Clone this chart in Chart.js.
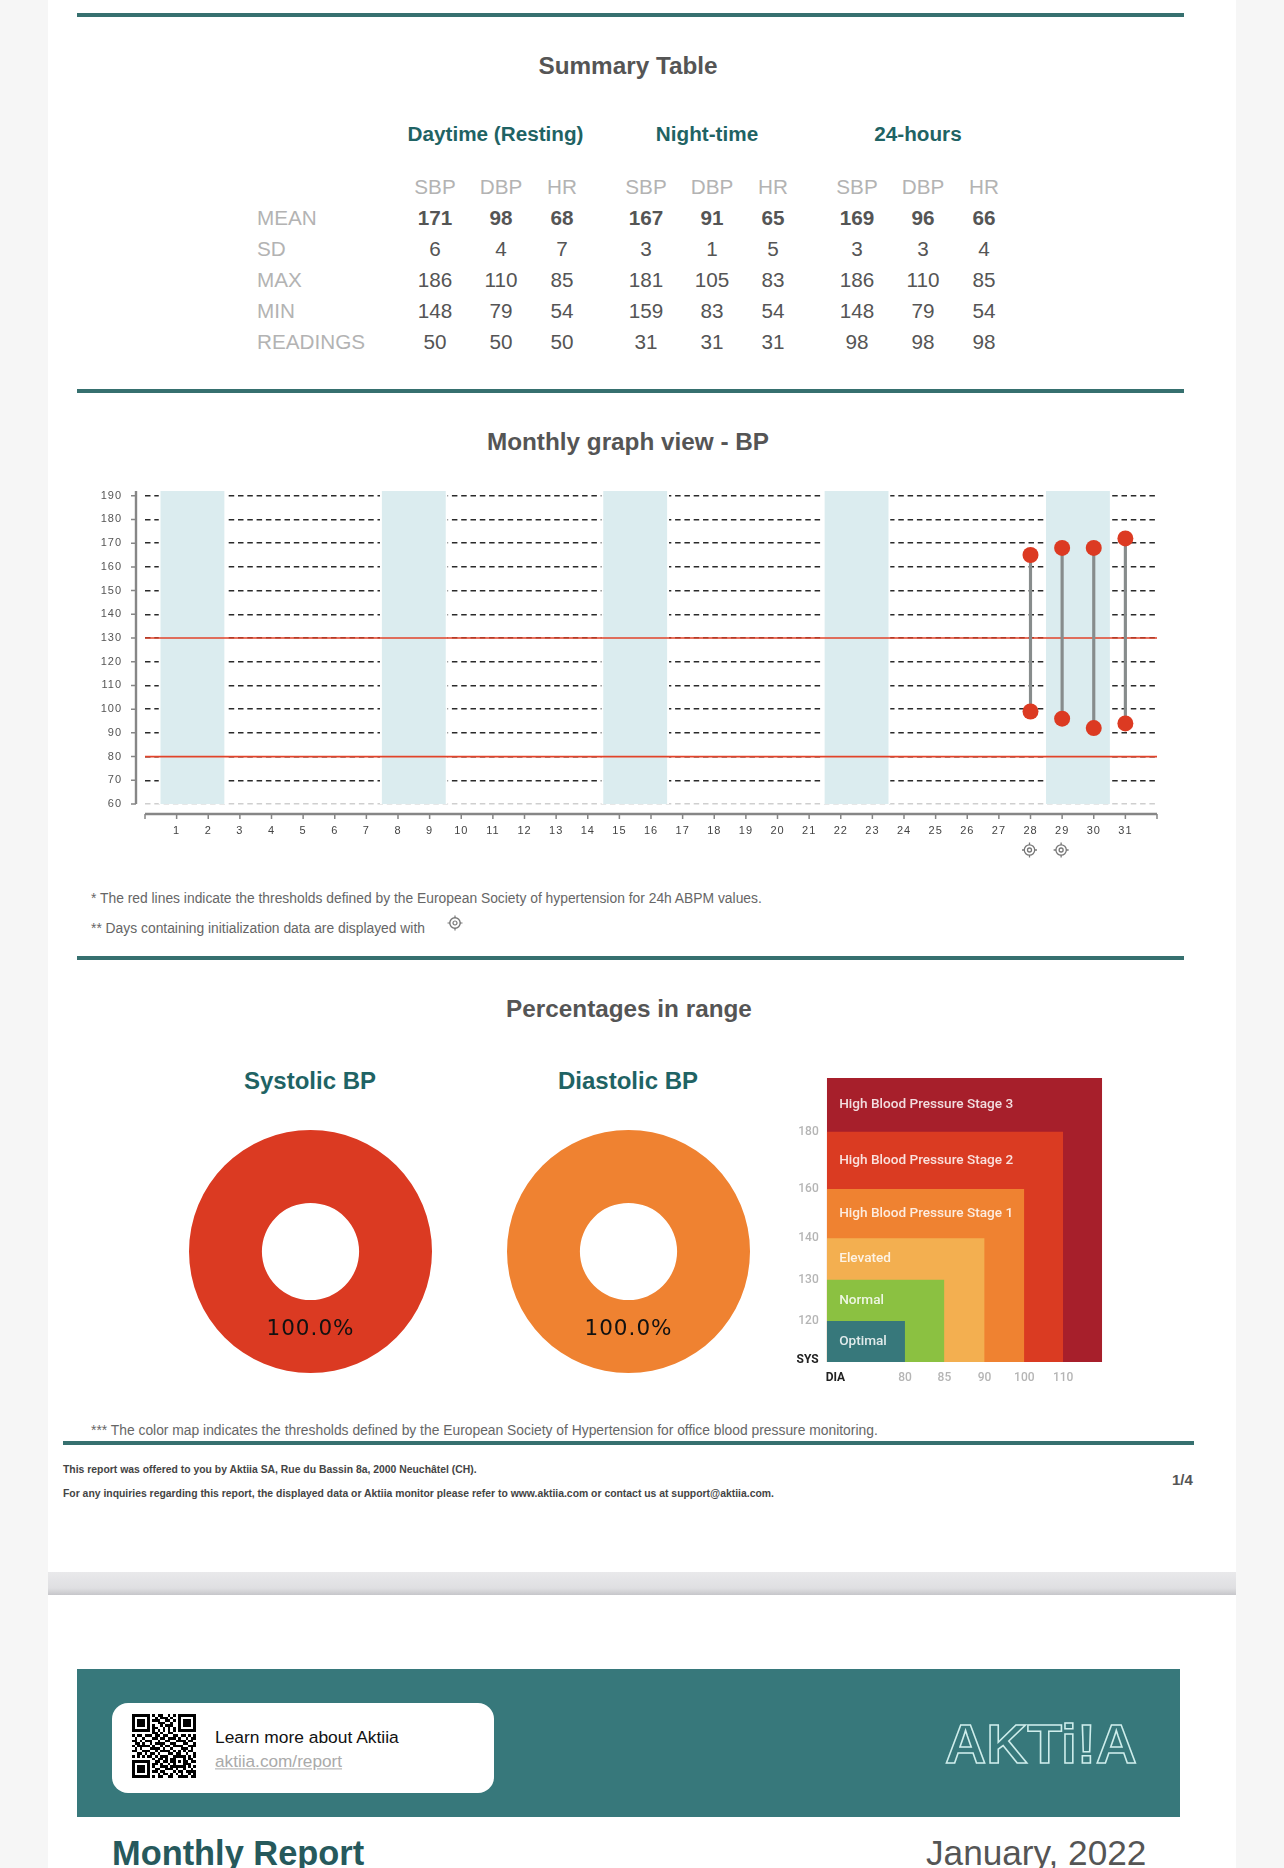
<!DOCTYPE html>
<html>
<head>
<meta charset="utf-8">
<title>Monthly Report</title>
<script src="https://cdn.jsdelivr.net/npm/chart.js@4/dist/chart.umd.min.js"></script>
<style>
  html, body { margin: 0; padding: 0; background: #f6f6f6; }
  body { position: relative; width: 1284px; height: 1868px; overflow: hidden; font-family: "Liberation Sans", sans-serif; }
  #page { position: absolute; left: 48px; top: 0; width: 1188px; height: 1868px; background: #fff; }
  .rule { position: absolute; background: #36706f; height: 4px; }
  .t { position: absolute; white-space: nowrap; line-height: 1; transform: translateY(-50%); }
  .c { transform: translate(-50%, -50%); }
  .title { font-size: 24.3px; font-weight: bold; color: #555; }
  .teal { font-weight: bold; color: #1f6364; }
  .note { font-size: 13.85px; color: #666; }
  .foot { font-size: 10.4px; font-weight: bold; color: #444; }
  canvas { position: absolute; }
  #divider { position: absolute; left: 48px; top: 1572px; width: 1188px; height: 23px; background: linear-gradient(#e9e9eb, #dfdfe2 70%, #c6c6ca); }
  #banner { position: absolute; left: 77px; top: 1669px; width: 1103px; height: 148px; background: #37787b; }
  #card { position: absolute; left: 112px; top: 1703px; width: 382px; height: 90px; background: #fff; border-radius: 16px; }
</style>
</head>
<body>
<div id="page"></div>
<div class="rule" style="left:77px;top:13px;width:1107px"></div>
<div class="rule" style="left:77px;top:389px;width:1107px"></div>
<div class="rule" style="left:77px;top:956px;width:1107px"></div>
<div class="rule" style="left:63px;top:1441px;width:1131px"></div>

<div class="t c title" style="left:628px;top:66px">Summary Table</div>
<div id="table"></div>

<div class="t c title" style="left:628px;top:442px">Monthly graph view - BP</div>
<canvas id="bpChart" style="left:80px;top:480px;width:1090px;height:400px" width="1090" height="400"></canvas>
<div class="t note" style="left:91px;top:899px">* The red lines indicate the thresholds defined by the European Society of hypertension for 24h ABPM values.</div>
<div class="t note" style="left:91px;top:929px">** Days containing initialization data are displayed with</div>
<svg style="position:absolute;left:447px;top:915px" width="16" height="16" viewBox="-8 -8 16 16" fill="none" stroke="#777">
  <circle r="5.2" stroke-width="1.4"/><circle r="2" stroke-width="1.2"/>
  <path d="M0-7.5V-5M0 5V7.5M-7.5 0H-5M5 0H7.5" stroke-width="1.2"/>
</svg>

<div class="t c title" style="left:629px;top:1009px">Percentages in range</div>
<div class="t c teal" style="left:310px;top:1081px;font-size:24px">Systolic BP</div>
<div class="t c teal" style="left:628px;top:1081px;font-size:24px">Diastolic BP</div>
<canvas id="sysChart" style="left:189px;top:1130px;width:243px;height:243px" width="243" height="243"></canvas>
<canvas id="diaChart" style="left:507px;top:1130px;width:243px;height:243px" width="243" height="243"></canvas>
<canvas id="mapChart" style="left:770px;top:1070px;width:345px;height:320px" width="345" height="320"></canvas>
<div class="t note" style="left:91px;top:1431px">*** The color map indicates the thresholds defined by the European Society of Hypertension for office blood pressure monitoring.</div>

<div class="t foot" style="left:63px;top:1470px">This report was offered to you by Aktiia SA, Rue du Bassin 8a, 2000 Neuchâtel (CH).</div>
<div class="t foot" style="left:63px;top:1494px">For any inquiries regarding this report, the displayed data or Aktiia monitor please refer to www.aktiia.com or contact us at support@aktiia.com.</div>
<div class="t" style="left:1172px;top:1479px;font-size:15px;font-weight:bold;color:#555">1/4</div>

<div id="divider"></div>
<div id="banner"></div>
<div id="card"></div>
<svg id="qr" style="position:absolute;left:132px;top:1714px" width="64" height="64" viewBox="0 0 25 25" shape-rendering="crispEdges"></svg>
<div class="t" style="left:215px;top:1738px;font-size:17.4px;color:#111">Learn more about Aktiia</div>
<div class="t" style="left:215px;top:1762px;font-size:17.2px;color:#aaa;text-decoration:underline">aktiia.com/report</div>
<svg style="position:absolute;left:940px;top:1715px" width="204" height="56">
  <text x="5" y="48" textLength="192" lengthAdjust="spacingAndGlyphs" font-family="Liberation Sans" font-weight="bold" font-size="56" fill="none" stroke="#cfeeec" stroke-width="1.5">AKTi!A</text>
</svg>
<div class="t teal" style="left:112px;top:1853px;font-size:34.4px;color:#26595c">Monthly Report</div>
<div class="t" style="left:926px;top:1853px;font-size:35.2px;color:#555">January, 2022</div>

<script>
// summary table
const groupNames = ['Daytime (Resting)', 'Night-time', '24-hours'];
const columnNames = ['SBP', 'DBP', 'HR'];
const rowNames = ['MEAN', 'SD', 'MAX', 'MIN', 'READINGS'];
const rowMean = [171, 98, 68, 167, 91, 65, 169, 96, 66];
const rowSd = [6, 4, 7, 3, 1, 5, 3, 3, 4];
const rowMax = [186, 110, 85, 181, 105, 83, 186, 110, 85];
const rowMin = [148, 79, 54, 159, 83, 54, 148, 79, 54];
const rowReadings = [50, 50, 50, 31, 31, 31, 98, 98, 98];

// monthly BP graph
const dayLabels = ['1','2','3','4','5','6','7','8','9','10','11','12','13','14','15','16','17','18','19','20','21','22','23','24','25','26','27','28','29','30','31'];
const weekendCentres = [1.5, 8.5, 15.5, 22.5, 29.5];
const readingDays = [28, 29, 30, 31];
const systolic = [165, 168, 168, 172];
const diastolic = [99, 96, 92, 94];
const thresholds = [130, 80];
const initDays = [28, 29];

// percentages in range
const systolicPct = [100];
const diastolicPct = [100];

// colour map
const zoneNames = ['High Blood Pressure Stage 3', 'High Blood Pressure Stage 2', 'High Blood Pressure Stage 1', 'Elevated', 'Normal', 'Optimal'];
const zoneSys = [200, 180, 160, 140, 130, 120];
const zoneDia = [120, 110, 100, 90, 85, 80];
const zoneColors = ['#a71f2b', '#da3b22', '#ef8231', '#f3af50', '#8bc141', '#37787b'];

const qrRows = [
  '1111111010110010101111111','1000001001011101001000001','1011101011100110101011101','1011101000111001001011101','1011101010010111001011101',
  '1000001011001010101000001','1111111010101010101111111','0000000011010011000000000','1011011101101100110110101','0100100011011011101001011',
  '1101011100100110011110110','0110100101111001100011001','1011111010010110111100111','0101000111101001000111010','1100111001011110101010110',
  '0011010110100011011001001','1010101101011100111110101','0000000010110101100010110','1111111001101101101011011','1000001011010010100011100',
  '1011101010011101111110101','1011101001100111010010010','1011101011011000101101111','1000001000101101010100101','1111111010110011001111011'
];

// build the html table
const tableEl = document.getElementById('table');
function addText(text, x, y, style, centred) {
  const d = document.createElement('div');
  d.className = centred ? 't c' : 't';
  d.style.cssText = `left:${x}px;top:${y}px;${style}`;
  d.textContent = text;
  tableEl.appendChild(d);
}
const colX = [435, 501, 562, 646, 712, 773, 857, 923, 984];
const groupX = [495.5, 707, 918];
const rowY = [218, 249, 280, 311, 342];
groupNames.forEach((g, i) => addText(g, groupX[i], 133.5, 'font-size:20.7px;font-weight:bold;color:#1f6364', true));
colX.forEach((x, i) => addText(columnNames[i % 3], x, 187, 'font-size:20.7px;color:#b3b3b3', true));
[rowMean, rowSd, rowMax, rowMin, rowReadings].forEach((row, r) => {
  addText(rowNames[r], 257, rowY[r], 'font-size:20.7px;color:#b3b3b3', false);
  row.forEach((v, i) => addText(v, colX[i], rowY[r], 'font-size:20.7px;color:#555;' + (r === 0 ? 'font-weight:bold' : ''), true));
});

// qr code
let qrHtml = '';
qrRows.forEach((row, y) => {
  for (let x = 0; x < row.length; x++) if (row[x] === '1') qrHtml += `<rect x="${x}" y="${y}" width="1" height="1"/>`;
});
document.getElementById('qr').innerHTML = qrHtml;

Chart.defaults.animation = false;
Chart.defaults.font.family = '"Liberation Sans", sans-serif';
Chart.defaults.plugins.legend.display = false;
Chart.defaults.plugins.tooltip.enabled = false;

// keep the plot area exactly where layout.padding puts it, whatever the tick padding is
function fixBox(s, size) {
  if (s.isHorizontal()) s.height = size; else s.width = size;
  s.paddingTop = s.paddingBottom = s.paddingLeft = s.paddingRight = 0;
}

// small target icon for days with initialization data
function drawTarget(ctx, x, y) {
  ctx.save();
  ctx.strokeStyle = '#777';
  ctx.lineWidth = 1.3;
  ctx.beginPath(); ctx.arc(x, y, 5.2, 0, Math.PI * 2); ctx.stroke();
  ctx.beginPath(); ctx.arc(x, y, 2, 0, Math.PI * 2); ctx.stroke();
  ctx.beginPath();
  ctx.moveTo(x, y - 7.5); ctx.lineTo(x, y - 5);
  ctx.moveTo(x, y + 5); ctx.lineTo(x, y + 7.5);
  ctx.moveTo(x - 7.5, y); ctx.lineTo(x - 5, y);
  ctx.moveTo(x + 5, y); ctx.lineTo(x + 7.5, y);
  ctx.stroke();
  ctx.restore();
}

// the axes in the report sit apart from the plot area, so they are drawn here from the scales
const detachedAxes = {
  id: 'detachedAxes',
  beforeDraw(chart) { chart.ctx.letterSpacing = '1px'; },
  afterDraw(chart) {
    const { ctx, scales: { x, y }, chartArea: a } = chart;
    ctx.save();
    ctx.strokeStyle = '#868686';
    ctx.lineWidth = 2.4;
    ctx.beginPath();
    ctx.moveTo(a.left - 9, a.top); ctx.lineTo(a.left - 9, a.bottom);
    ctx.moveTo(a.left, a.bottom + 10); ctx.lineTo(a.right, a.bottom + 10);
    ctx.stroke();
    ctx.lineWidth = 1.5;
    ctx.beginPath();
    y.ticks.forEach(t => {
      const p = y.getPixelForValue(t.value);
      ctx.moveTo(a.left - 14, p); ctx.lineTo(a.left - 9, p);
    });
    x.ticks.forEach(t => {
      const p = x.getPixelForValue(t.value);
      ctx.moveTo(p, a.bottom + 10); ctx.lineTo(p, a.bottom + 15);
    });
    ctx.stroke();
    ctx.restore();
    initDays.forEach(d => drawTarget(ctx, x.getPixelForValue(d) - 1, a.bottom + 46));
  }
};

new Chart(document.getElementById('bpChart'), {
  type: 'bar',
  plugins: [detachedAxes],
  data: {
    datasets: [
      {
        type: 'scatter', order: 1,
        data: readingDays.map((d, i) => ({ x: d, y: systolic[i] })),
        backgroundColor: '#dc3a22', pointRadius: 8, pointBorderWidth: 0
      },
      {
        type: 'scatter', order: 1,
        data: readingDays.map((d, i) => ({ x: d, y: diastolic[i] })),
        backgroundColor: '#dc3a22', pointRadius: 8, pointBorderWidth: 0
      },
      {
        order: 2, grouped: false, barThickness: 2.5,
        data: readingDays.map((d, i) => ({ x: d, y: [diastolic[i], systolic[i]] })),
        backgroundColor: '#878c8c'
      },
      ...thresholds.map(v => ({
        type: 'line', order: 3,
        data: [{ x: 0, y: v }, { x: 32, y: v }],
        borderColor: '#e2432a', borderWidth: 1.6, pointRadius: 0
      })),
      {
        order: 4, grouped: false, barThickness: 67.2,
        data: weekendCentres.map(c => ({ x: c, y: [60, 192] })),
        backgroundColor: '#dbecef', borderColor: '#fff',
        borderWidth: { left: 2, right: 2, top: 0, bottom: 0 }, borderSkipped: false
      }
    ]
  },
  options: {
    responsive: false,
    layout: { padding: { top: 11, right: 13 } },
    scales: {
      x: {
        type: 'linear', offset: false, min: 0, max: 32,
        afterFit(s) { fixBox(s, 76); },
        border: { display: false },
        grid: { display: false, drawTicks: false },
        ticks: {
          stepSize: 1, autoSkip: false, maxRotation: 0, padding: 20, color: '#444', font: { size: 11 },
          callback: v => dayLabels[v - 1] || ''
        }
      },
      y: {
        type: 'linear', min: 60, max: 192,
        afterFit(s) { fixBox(s, 65); },
        border: { display: false, dash: [5.5, 3.8] },
        grid: {
          drawTicks: false, lineWidth: 1.5,
          color: c => c.tick && c.tick.value === 60 ? '#cfcfcf' : '#2a2a2a'
        },
        ticks: { stepSize: 10, includeBounds: false, padding: 23, color: '#555', font: { size: 11 } }
      }
    }
  }
});

// label inside the ring
const ringLabel = {
  id: 'ringLabel',
  afterDraw(chart) {
    const { ctx, chartArea: a } = chart;
    const v = chart.data.datasets[0].data[0];
    ctx.save();
    ctx.letterSpacing = '1px';
    ctx.font = '21.5px "DejaVu Sans"';
    ctx.fillStyle = '#111';
    ctx.textAlign = 'center';
    ctx.textBaseline = 'middle';
    ctx.fillText(v.toFixed(1) + '%', (a.left + a.right) / 2, (a.top + a.bottom) / 2 + 78);
    ctx.restore();
  }
};
function ring(id, values, color) {
  new Chart(document.getElementById(id), {
    type: 'doughnut',
    plugins: [ringLabel],
    data: { datasets: [{ data: values, backgroundColor: color, borderWidth: 0 }] },
    options: { responsive: false, cutout: '40%' }
  });
}
ring('sysChart', systolicPct, '#db3a22');
ring('diaChart', diastolicPct, '#ef8231');

// axis for the colour map: bands are not evenly spaced, so each stop gets a share of the length
class BandScale extends Chart.Scale {
  determineDataLimits() {
    const stops = this.options.stops;
    this.min = stops[0];
    this.max = stops[stops.length - 1];
  }
  buildTicks() {
    return this.options.stops.slice(1, -1).map(v => ({ value: v }));
  }
  getPixelForValue(v) {
    const { stops, shares } = this.options;
    let i = 0;
    while (i < stops.length - 2 && v > stops[i + 1]) i++;
    const f = shares[i] + (v - stops[i]) / (stops[i + 1] - stops[i]) * (shares[i + 1] - shares[i]);
    return this.isHorizontal() ? this.left + f * this.width : this.bottom - f * this.height;
  }
}
BandScale.id = 'band';
BandScale.defaults = {};
Chart.register(BandScale);

const zoneLabels = {
  id: 'zoneLabels',
  afterDraw(chart) {
    const { ctx, scales: { y }, chartArea: a } = chart;
    ctx.save();
    ctx.font = '500 13.6px Roboto';
    ctx.fillStyle = 'rgba(255,255,255,0.85)';
    ctx.textBaseline = 'middle';
    zoneNames.forEach((name, i) => {
      const below = i < zoneSys.length - 1 ? zoneSys[i + 1] : 110;
      ctx.fillText(name, a.left + 12.5, (y.getPixelForValue(zoneSys[i]) + y.getPixelForValue(below)) / 2);
    });
    ctx.font = 'bold 12px Roboto';
    ctx.fillStyle = '#222';
    ctx.textAlign = 'right';
    ctx.fillText('SYS', a.left - 8, a.bottom - 2);
    ctx.textAlign = 'left';
    ctx.fillText('DIA', a.left - 1, a.bottom + 16);
    ctx.restore();
  }
};

new Chart(document.getElementById('mapChart'), {
  type: 'line',
  plugins: [zoneLabels],
  data: {
    datasets: zoneNames.map((name, i) => ({
      label: name,
      order: zoneNames.length - i,
      data: [{ x: 70, y: zoneSys[i] }, { x: zoneDia[i], y: zoneSys[i] }, { x: zoneDia[i], y: 110 }],
      backgroundColor: zoneColors[i], borderColor: zoneColors[i], borderWidth: 0,
      fill: 'start', pointRadius: 0, tension: 0
    }))
  },
  options: {
    responsive: false,
    layout: { padding: { top: 8, right: 12.7 } },
    scales: {
      x: {
        type: 'band', position: 'bottom',
        stops: [70, 80, 85, 90, 100, 110, 120],
        shares: [0, 0.284, 0.427, 0.573, 0.717, 0.858, 1],
        afterFit(s) { fixBox(s, 28); },
        border: { display: false }, grid: { display: false, drawTicks: false },
        ticks: { autoSkip: false, maxRotation: 0, padding: 9, color: '#b5b5b5', font: { family: 'Roboto', size: 12, weight: 500 } }
      },
      y: {
        type: 'band', position: 'left',
        stops: [110, 120, 130, 140, 160, 180, 200],
        shares: [0, 0.1444, 0.29, 0.4356, 0.609, 0.811, 1],
        afterFit(s) { fixBox(s, 56.7); },
        border: { display: false }, grid: { display: false, drawTicks: false },
        ticks: { autoSkip: false, padding: 8, color: '#b5b5b5', font: { family: 'Roboto', size: 12, weight: 500 } }
      }
    }
  }
});
</script>
</body>
</html>
